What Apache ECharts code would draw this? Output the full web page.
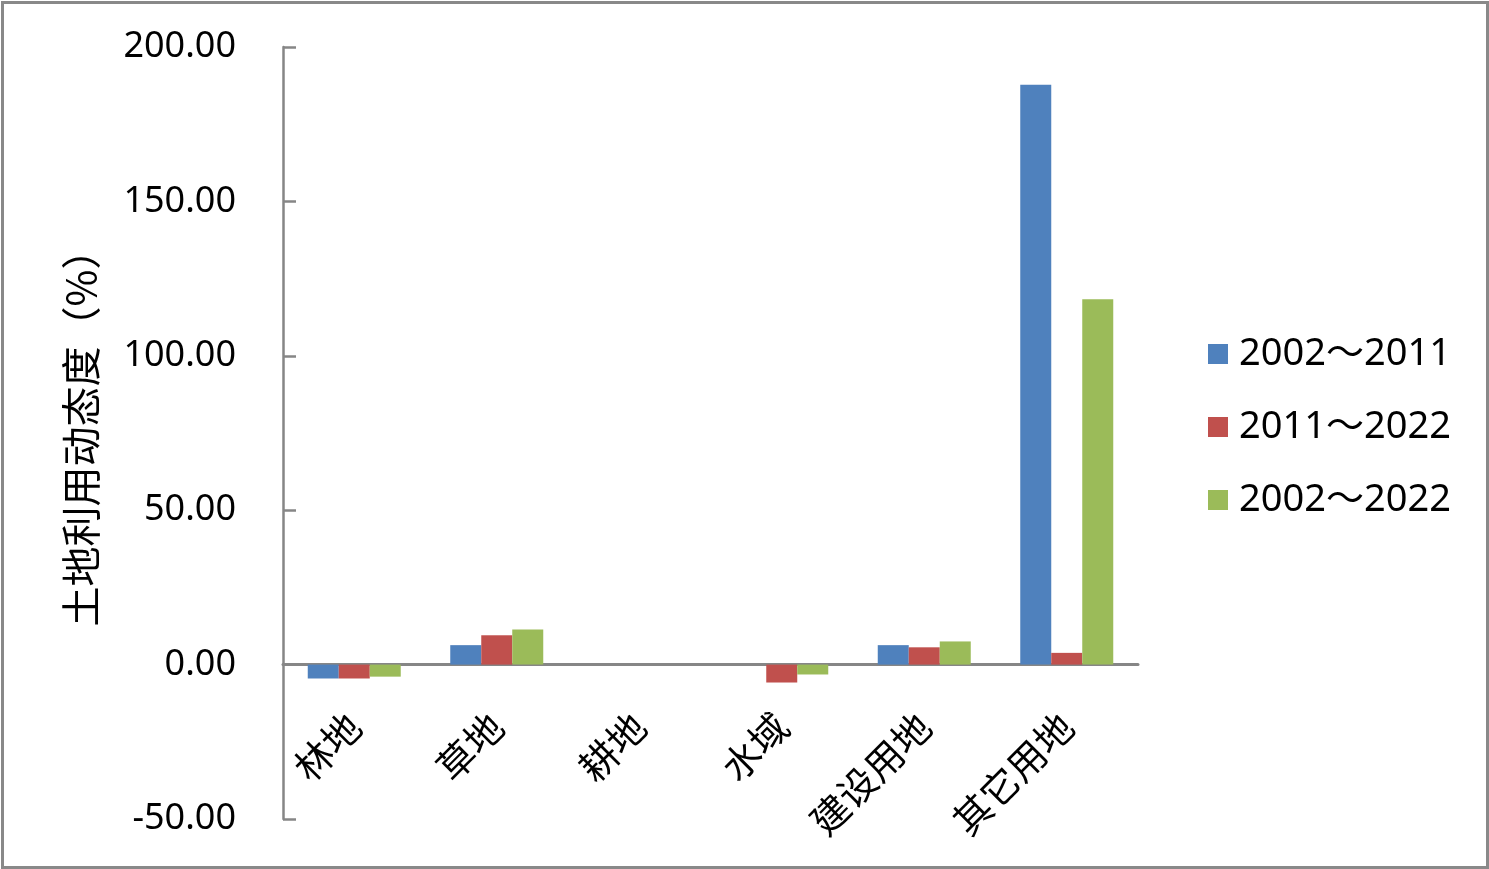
<!DOCTYPE html>
<html>
<head>
<meta charset="utf-8">
<title>土地利用动态度</title>
<script src="https://cdn.jsdelivr.net/npm/echarts@6/dist/echarts.min.js"></script>
<style>
    html, body { margin: 0; padding: 0; background: #fff; }
    #chart { width: 1489px; height: 869px; }
</style>
</head>
<body>
<div id="chart"></div>
<script>
// land types (x axis)
const categories = ['林地', '草地', '耕地', '水域', '建设用地', '其它用地'];

// series names
const seriesNames = ['2002～2011', '2011～2022', '2002～2022'];

// dynamic degree (%) per period
const values_2002_2011 = [-4.5, 6.3, 0, 0, 6.3, 187.8];
const values_2011_2022 = [-4.5, 9.5, 0, -5.8, 5.6, 3.8];
const values_2002_2022 = [-3.9, 11.4, 0, -3.2, 7.5, 118.3];

const seriesColors = ['#4F81BD', '#C0504D', '#9BBB59'];

(function(){
    let chart = echarts.init(document.getElementById('chart'));

    let fontCN = '"Noto Sans CJK SC", "Noto Sans", sans-serif';
    let fontNum = '"Noto Sans", "Noto Sans CJK SC", sans-serif';
    let axisGray = '#868686';

    let makeSeries = function(name, data, color){
        return {
            name: name,
            type: 'bar',
            data: data,
            barWidth: 31,
            barGap: '0%',
            itemStyle: { color: color }
        };
    };

    let opts = {
        animation: false,
        backgroundColor: '#fff',
        graphic: [{
            type: 'rect',
            left: 0,
            top: 0,
            shape: { x: 1.5, y: 1.5, width: 1485, height: 865 },
            style: { fill: 'none', stroke: '#898989', lineWidth: 3 }
        }],
        legend: {
            orient: 'vertical',
            left: 1208,
            top: 335,
            padding: 0,
            itemWidth: 20,
            itemHeight: 20,
            itemGap: 35,
            icon: 'rect',
            textStyle: {
                fontFamily: fontNum,
                fontSize: 38,
                lineHeight: 38,
                color: '#000',
                padding: [0, 0, 0, 6]
            },
            data: seriesNames
        },
        grid: {
            left: 283,
            right: 351,
            top: 47,
            bottom: 50,
            containLabel: false,
            outerBoundsMode: 'none'
        },
        xAxis: {
            type: 'category',
            data: categories,
            axisLine: {
                onZero: true,
                lineStyle: { color: axisGray, width: 3 }
            },
            axisTick: { show: false },
            axisLabel: {
                interval: 0,
                rotate: 45,
                // labels sit under the zero line, not under the grid bottom
                margin: -99,
                verticalAlign: 'middle',
                fontFamily: fontCN,
                fontSize: 38,
                color: '#000'
            }
        },
        yAxis: {
            type: 'value',
            min: -50,
            max: 200,
            interval: 50,
            name: '土地利用动态度（%）',
            nameLocation: 'middle',
            nameGap: 182,
            nameTextStyle: {
                fontFamily: fontCN,
                fontSize: 40,
                color: '#000',
                padding: [0, 0, 0, 10]
            },
            axisLine: {
                show: true,
                lineStyle: { color: axisGray, width: 2.5 }
            },
            axisTick: {
                show: true,
                inside: true,
                length: 13,
                lineStyle: { color: axisGray, width: 2.5 }
            },
            splitLine: { show: false },
            axisLabel: {
                margin: 47,
                fontFamily: fontNum,
                fontSize: 36,
                color: '#000',
                formatter: (v) => v.toFixed(2)
            }
        },
        series: [
            makeSeries(seriesNames[0], values_2002_2011, seriesColors[0]),
            makeSeries(seriesNames[1], values_2011_2022, seriesColors[1]),
            makeSeries(seriesNames[2], values_2002_2022, seriesColors[2])
        ]
    };

    chart.setOption(opts);
})();
</script>
</body>
</html>
